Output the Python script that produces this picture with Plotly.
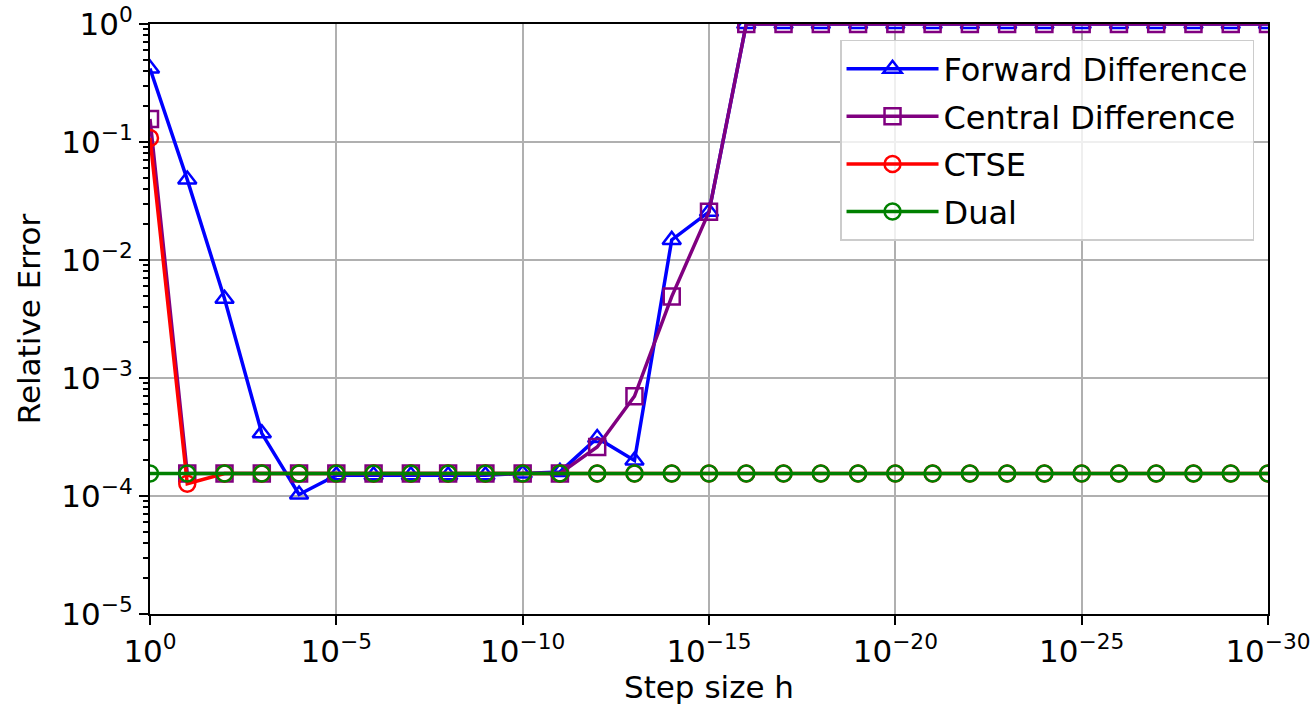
import plotly.graph_objects as go

# Step sizes: 10^0 down to 10^-30
exponents = list(range(0, -31, -1))
step_h = [10.0 ** e for e in exponents]

forward_diff = [0.42, 0.048, 0.0047, 3.4e-4, 1.03e-4, 1.5e-4, 1.5e-4, 1.5e-4, 1.5e-4, 1.5e-4,
                1.55e-4, 1.6e-4, 3.1e-4, 2.0e-4, 0.0148, 0.0256] + [1.0] * 15
central_diff = [0.157, 1.55e-4, 1.55e-4, 1.55e-4, 1.55e-4, 1.55e-4, 1.55e-4, 1.55e-4, 1.55e-4, 1.55e-4,
                1.55e-4, 1.55e-4, 2.6e-4, 7.0e-4, 0.0049, 0.0256] + [1.0] * 15
ctse = [0.108, 1.27e-4] + [1.55e-4] * 29
dual = [1.55e-4] * 31

x_tick_vals = [1e0, 1e-5, 1e-10, 1e-15, 1e-20, 1e-25, 1e-30]
x_tick_text = ["10<sup>0</sup>", "10<sup>−5</sup>", "10<sup>−10</sup>", "10<sup>−15</sup>",
               "10<sup>−20</sup>", "10<sup>−25</sup>", "10<sup>−30</sup>"]
y_tick_vals = [1e-5, 1e-4, 1e-3, 1e-2, 1e-1, 1e0]
y_tick_text = ["10<sup>−5</sup>", "10<sup>−4</sup>", "10<sup>−3</sup>", "10<sup>−2</sup>",
               "10<sup>−1</sup>", "10<sup>0</sup>"]

series = [
    ("Forward Difference", forward_diff, "blue", "triangle-up-open"),
    ("Central Difference", central_diff, "purple", "square-open"),
    ("CTSE", ctse, "red", "circle-open"),
    ("Dual", dual, "green", "circle-open"),
]

fig = go.Figure()
for i, (name, vals, color, sym) in enumerate(series):
    fig.add_trace(go.Scatter(
        x=step_h, y=vals, name=name, mode="lines+markers", legendgroup=f"g{i}",
        line=dict(color=color, width=3.5),
        marker=dict(symbol=sym, size=16, color=color, line=dict(color=color, width=2.5)),
    ))

FONT = "DejaVu Sans"
fig.update_layout(
    width=1314, height=708,
    margin=dict(l=150, r=46, t=24, b=94, autoexpand=False),
    paper_bgcolor="white", plot_bgcolor="white",
    font=dict(family=FONT, size=31, color="black"),
    showlegend=True,
    legend=dict(
        x=0.9875, y=0.973, xanchor="right", yanchor="top",
        bgcolor="rgba(255,255,255,0.8)", bordercolor="#cccccc", borderwidth=1.5,
        font=dict(family=FONT, size=32, color="black"),
        tracegroupgap=3, itemwidth=92,
    ),
    xaxis=dict(
        type="log", range=[0, -30], automargin=False,
        tickmode="array", tickvals=x_tick_vals, ticktext=x_tick_text,
        showgrid=True, gridcolor="#b0b0b0", gridwidth=2,
        showline=True, linecolor="black", linewidth=2, mirror=True,
        ticks="outside", ticklen=9, tickwidth=2, tickcolor="black",
        title=dict(text="Step size h", font=dict(size=31), standoff=6),
        zeroline=False,
    ),
    yaxis=dict(
        type="log", range=[-5, 0], automargin=False,
        tickmode="array", tickvals=y_tick_vals, ticktext=y_tick_text,
        showgrid=True, gridcolor="#b0b0b0", gridwidth=2,
        showline=True, linecolor="black", linewidth=2, mirror=True,
        ticks="outside", ticklen=9, tickwidth=2, tickcolor="black",
        minor=dict(ticks="outside", ticklen=5, tickwidth=1.5, tickcolor="black", dtick="D1", showgrid=False),
        title=dict(text="Relative Error", font=dict(size=31), standoff=12),
        zeroline=False,
    ),
)

fig.write_html(
    "out.html",
    config={"displayModeBar": False},
    post_script="document.body.style.margin='0';document.body.style.overflow='hidden';",
)
